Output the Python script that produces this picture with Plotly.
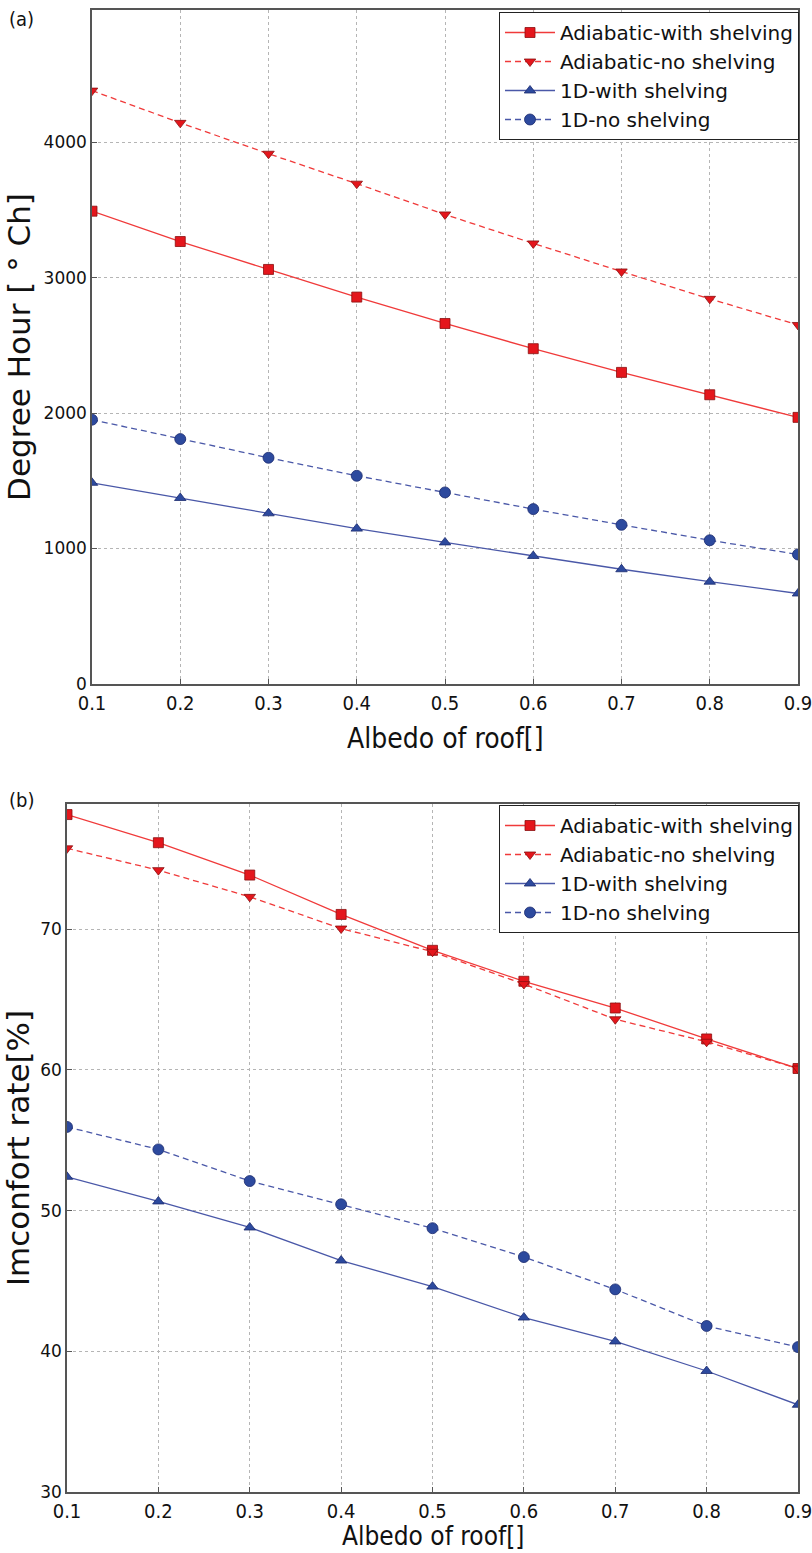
import plotly.graph_objects as go

albedo = [0.1, 0.2, 0.3, 0.4, 0.5, 0.6, 0.7, 0.8, 0.9]
x_ticks = [0.1, 0.2, 0.3, 0.4, 0.5, 0.6, 0.7, 0.8, 0.9]
x_tick_text = ["0.1", "0.2", "0.3", "0.4", "0.5", "0.6", "0.7", "0.8", "0.9"]

# Panel (a): Degree hour
dh_adi_shelf = [3490, 3266, 3060, 2856, 2661, 2475, 2300, 2135, 1968]
dh_adi_noshelf = [4380, 4142, 3914, 3693, 3466, 3252, 3045, 2843, 2650]
dh_1d_shelf = [1485, 1373, 1260, 1147, 1045, 945, 847, 755, 668]
dh_1d_noshelf = [1951, 1808, 1670, 1537, 1414, 1291, 1175, 1061, 956]
dh_ticks = [0, 1000, 2000, 3000, 4000]

# Panel (b): Imconfort rate
ir_adi_shelf = [78.15, 76.15, 73.85, 71.05, 68.5, 66.3, 64.4, 62.2, 60.1]
ir_adi_noshelf = [75.75, 74.2, 72.3, 70.05, 68.4, 66.1, 63.6, 62.0, 60.1]
ir_1d_shelf = [52.4, 50.65, 48.8, 46.45, 44.6, 42.4, 40.7, 38.6, 36.2]
ir_1d_noshelf = [55.95, 54.35, 52.1, 50.45, 48.75, 46.7, 44.4, 41.8, 40.3]
ir_ticks = [30, 40, 50, 60, 70]

names = ["Adiabatic-with shelving", "Adiabatic-no shelving", "1D-with shelving", "1D-no shelving"]

RED_LINE = "#f03a3a"
RED_FILL = "#e4161c"
RED_EDGE = "#8a1010"
BLUE_LINE = "#4a58a8"
BLUE_FILL = "#2d4a9e"
BLUE_EDGE = "#1c2b6e"

styles = [
    dict(color=RED_LINE, dash="solid", symbol="square", fill=RED_FILL, edge=RED_EDGE, size=10),
    dict(color=RED_LINE, dash="6px,4px", symbol="triangle-down", fill=RED_FILL, edge=RED_EDGE, size=10),
    dict(color=BLUE_LINE, dash="solid", symbol="triangle-up", fill=BLUE_FILL, edge=BLUE_EDGE, size=10),
    dict(color=BLUE_LINE, dash="6px,4px", symbol="circle", fill=BLUE_FILL, edge=BLUE_EDGE, size=11),
]

fig = go.Figure()

def add_series(ys_list, xa, ya, legend):
    for name, ys, st in zip(names, ys_list, styles):
        fig.add_trace(go.Scatter(
            x=albedo, y=ys, name=name, mode="lines+markers",
            xaxis=xa, yaxis=ya, legend=legend,
            line=dict(color=st["color"], width=1.3, dash=st["dash"]),
            marker=dict(symbol=st["symbol"], size=st["size"], color=st["fill"],
                        line=dict(color=st["edge"], width=0.8)),
        ))

add_series([dh_adi_shelf, dh_adi_noshelf, dh_1d_shelf, dh_1d_noshelf], "x", "y", "legend")
add_series([ir_adi_shelf, ir_adi_noshelf, ir_1d_shelf, ir_1d_noshelf], "x2", "y2", "legend2")

W, H = 812, 1553
def px(x):
    return x / W
def py(y):
    return 1 - y / H

axis_common = dict(
    showline=True, mirror=True, linecolor="#555555", linewidth=1.5,
    showgrid=True, gridcolor="#b5b5b5", griddash="dot", gridwidth=1,
    ticks="inside", ticklen=5, tickcolor="#555555", zeroline=False,
    ticklabeloverflow="allow",
)
COND = "DejaVu Sans Condensed, DejaVu Sans"
xfont = dict(family=COND, size=20, color="#111111")
yfont = dict(family="DejaVu Sans", size=17, color="#111111")
xtitle_font = dict(family=COND, size=28, color="#111111")
xtitle_font_b = dict(family=COND, size=26, color="#111111")
ytitle_font = dict(family="DejaVu Sans", size=31, color="#111111")

legend_common = dict(
    xanchor="right", yanchor="top",
    bgcolor="white", bordercolor="#222222", borderwidth=1,
    font=dict(family="DejaVu Sans", size=20, color="#111111"),
    tracegroupgap=0, itemwidth=50,
)

fig.update_layout(
    width=W, height=H,
    margin=dict(l=0, r=0, t=0, b=0),
    paper_bgcolor="white", plot_bgcolor="white",
    font=dict(family="DejaVu Sans", color="#111111"),
    xaxis=dict(domain=[px(92), px(798)], anchor="y", range=[0.1, 0.9],
               tickvals=x_ticks, ticktext=x_tick_text, tickfont=xfont,
               automargin=False, **axis_common),
    yaxis=dict(domain=[py(684), py(10)], anchor="x", range=[0, 4975],
               tickvals=dh_ticks, tickfont=yfont,
               title=dict(text="Degree Hour [ ° Ch]", font=ytitle_font, standoff=4),
               automargin=False, **axis_common),
    xaxis2=dict(domain=[px(67), px(798)], anchor="y2", range=[0.1, 0.9],
                tickvals=x_ticks, ticktext=x_tick_text, tickfont=xfont,
                automargin=False, **axis_common),
    yaxis2=dict(domain=[py(1492), py(804)], anchor="x2", range=[30, 78.9],
                tickvals=ir_ticks, tickfont=yfont,
                title=dict(text="Imconfort rate[%]", font=ytitle_font, standoff=4),
                automargin=False, **axis_common),
    legend=dict(x=px(799), y=py(12), **legend_common),
    legend2=dict(x=px(799), y=py(805), **legend_common),
    annotations=[
        dict(text="(a)", x=px(7), y=py(19), xref="paper", yref="paper",
             xanchor="left", yanchor="middle", showarrow=False,
             font=dict(family=COND, size=20, color="#111111")),
        dict(text="(b)", x=px(7), y=py(800), xref="paper", yref="paper",
             xanchor="left", yanchor="middle", showarrow=False,
             font=dict(family=COND, size=20, color="#111111")),
        dict(text="Albedo of roof[]", x=(px(92) + px(798)) / 2, y=py(738),
             xref="paper", yref="paper", xanchor="center", yanchor="middle",
             showarrow=False, font=xtitle_font),
        dict(text="Albedo of roof[]", x=(px(67) + px(798)) / 2, y=py(1553),
             xref="paper", yref="paper", xanchor="center", yanchor="bottom",
             showarrow=False, font=xtitle_font_b),
    ],
)

fig.write_html("out.html")
